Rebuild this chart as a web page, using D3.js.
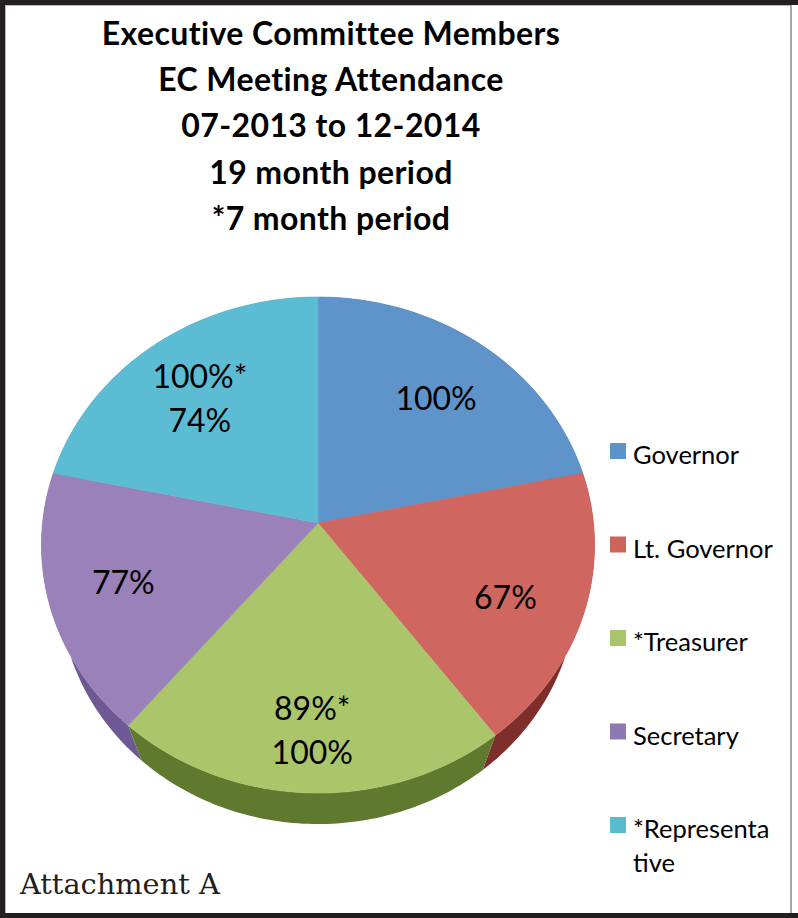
<!DOCTYPE html>
<html>
<head>
<meta charset="utf-8">
<script src="https://cdn.jsdelivr.net/npm/d3@7"></script>
<style>
  html, body { margin: 0; padding: 0; background: #fff; }
  svg { display: block; }
</style>
</head>
<body>
<div id="chart"></div>
<script>
// chart data
var titleLines = ["Executive Committee Members", "EC Meeting Attendance", "07-2013 to 12-2014", "19 month period", "*7 month period"];
var categories = ["Governor", "Lt. Governor", "*Treasurer", "Secretary", "*Representative"];
// share of the pie per member
var shares = [21.7, 18.1, 21.3, 17.2, 21.7];
// attendance labels printed on the slices
var sliceLabels = [["100%"], ["67%"], ["89%*", "100%"], ["77%"], ["100%*", "74%"]];
var topColors = ["#5e94ca", "#cf665f", "#abc56b", "#9a81b9", "#5bbcd4"];
var sideColors = ["#3f6894", "#7e2f2c", "#5f7a2f", "#6d5993", "#2f8aa0"];
var legendColors = ["#5b93ca", "#cd635b", "#aac46a", "#8f79b3", "#59bad2"];

var W = 798, H = 918;

var svg = d3.select("#chart").append("svg")
    .attr("width", W)
    .attr("height", H);

svg.append("rect").attr("width", W).attr("height", H).attr("fill", "#fff");

// frame of the scanned page
svg.append("rect").attr("x", 0).attr("y", 0).attr("width", W).attr("height", 5).attr("fill", "#231f20");
svg.append("rect").attr("x", 0).attr("y", 0).attr("width", 5).attr("height", H).attr("fill", "#231f20");
svg.append("rect").attr("x", 0).attr("y", 913).attr("width", W).attr("height", 5).attr("fill", "#231f20");
svg.append("rect").attr("x", 5).attr("y", 5).attr("width", 785).attr("height", 1).attr("fill", "#b8b8b8");
svg.append("rect").attr("x", 5).attr("y", 5).attr("width", 1).attr("height", 908).attr("fill", "#b8b8b8");
svg.append("rect").attr("x", 790).attr("y", 5).attr("width", 2).attr("height", 908).attr("fill", "#a6a6a6");

// title
svg.append("g").selectAll("text")
    .data(titleLines)
  .enter().append("text")
    .attr("x", 331)
    .attr("y", function(d, i) { return 45 + i * 46.2; })
    .attr("text-anchor", "middle")
    .style("font-family", "Lato, 'Noto Sans', sans-serif")
    .style("font-weight", "bold")
    .style("font-size", "32px")
    .style("letter-spacing", "0.4px")
    .style("fill", "#000")
    .text(function(d) { return d; });

// 3d pie projection (tilted disc seen in perspective)
var cx = 318, cy = 523;
var F = 1394.3, D = 5.062;
var tilt = 63.3 * Math.PI / 180,
    st = Math.sin(tilt), ct = Math.cos(tilt);
var thick = 0.40;

function project(a, r, h) {
  var x = r * Math.sin(a), z = -r * Math.cos(a);
  var d = D - z * ct + h * st;
  return [cx + F * x / d, cy + F * (z * st + h * ct) / d];
}

function rim(a0, a1, h) {
  var n = Math.max(2, Math.ceil((a1 - a0) / (Math.PI / 180))), pts = [];
  for (var i = 0; i <= n; i++) pts.push(project(a0 + (a1 - a0) * i / n, 1, h));
  return pts;
}

function topPoly(d) {
  return [[cx, cy]].concat(rim(d.startAngle, d.endAngle, 0));
}

// only the front part of the wall (facing the viewer)
function sidePoly(a0, a1) {
  return rim(a0, a1, 0).concat(rim(a0, a1, thick).reverse());
}

var pie = d3.pie().sort(null).value(function(d) { return d; });
var arcs = pie(shares);
var line = d3.line();

var pieG = svg.append("g");

// side walls, back ones first
var sides = arcs.map(function(d, i) { return {d: d, i: i}; })
  .sort(function(a, b) {
    return -Math.cos((a.d.startAngle + a.d.endAngle) / 2) - -Math.cos((b.d.startAngle + b.d.endAngle) / 2);
  });

pieG.selectAll(".side")
    .data(sides)
  .enter().append("path")
    .attr("class", "side")
    .attr("fill", function(s) { return sideColors[s.i]; })
    .attr("d", function(s) {
      return line(sidePoly(s.d.startAngle, s.d.endAngle)) + "Z";
    });

// top faces
pieG.selectAll(".slice")
    .data(arcs)
  .enter().append("path")
    .attr("class", "slice")
    .attr("fill", function(d, i) { return topColors[i]; })
    .attr("stroke", function(d, i) { return topColors[i]; })
    .attr("stroke-width", 0.6)
    .attr("d", function(d) { return line(topPoly(d)) + "Z"; });

// label anchor: centroid of the visible slice (top + front wall), pushed outwards
function labelPos(d) {
  var polys = [topPoly(d)];
  var a0 = Math.max(d.startAngle, Math.PI / 2), a1 = Math.min(d.endAngle, 3 * Math.PI / 2);
  if (a1 > a0) polys.push(sidePoly(a0, a1));
  var A = 0, X = 0, Y = 0;
  polys.forEach(function(p) {
    var a = Math.abs(d3.polygonArea(p)), c = d3.polygonCentroid(p);
    A += a; X += a * c[0]; Y += a * c[1];
  });
  return [cx + (X / A - cx) * 1.14, cy + (Y / A - cy) * 1.14];
}

pieG.selectAll(".lbl")
    .data(arcs)
  .enter().append("text")
    .attr("class", "lbl")
    .attr("text-anchor", "middle")
    .style("font-family", "Lato, 'Noto Sans', sans-serif")
    .style("font-size", "32px")
    .style("fill", "#000")
    .each(function(d, i) {
      var p = labelPos(d);
      var lines = sliceLabels[i];
      var t = d3.select(this);
      lines.forEach(function(s, k) {
        t.append("tspan")
          .attr("x", p[0])
          .attr("y", p[1] + 11 + (k - (lines.length - 1) / 2) * 44)
          .text(s);
      });
    });

// legend
var legend = svg.append("g")
    .selectAll("g")
    .data(categories)
  .enter().append("g")
    .attr("transform", function(d, i) { return "translate(610," + (443 + i * 93.5) + ")"; });

legend.append("rect")
    .attr("width", 16)
    .attr("height", 16)
    .attr("fill", function(d, i) { return legendColors[i]; });

legend.append("text")
    .style("font-family", "Lato, 'Noto Sans', sans-serif")
    .style("font-size", "25.5px")
    .style("fill", "#000")
    .each(function(d) {
      var t = d3.select(this);
      // wrap long names by characters like the original legend
      var maxW = 144, lines = [], cur = "";
      var probe = t.append("tspan");
      d.split("").forEach(function(ch) {
        probe.text(cur + ch);
        if (probe.node().getComputedTextLength() > maxW && cur.length) {
          lines.push(cur);
          cur = ch;
        } else {
          cur += ch;
        }
      });
      lines.push(cur);
      probe.remove();
      lines.forEach(function(s, k) {
        t.append("tspan").attr("x", 23).attr("y", 21 + k * 34).text(s);
      });
    });

// footer
svg.append("text")
    .attr("x", 20)
    .attr("y", 894)
    .style("font-family", "'DejaVu Serif', serif")
    .style("font-size", "28.8px")
    .style("fill", "#231f20")
    .text("Attachment A");
</script>
</body>
</html>
